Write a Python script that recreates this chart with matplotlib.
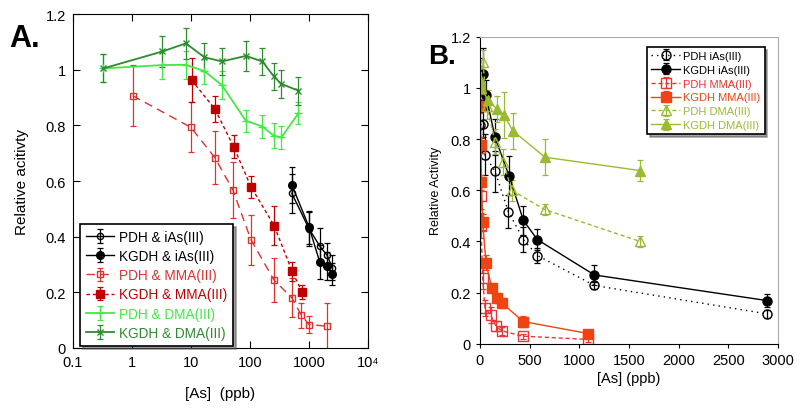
import matplotlib
matplotlib.use("Agg")
import matplotlib.pyplot as plt

plt.rcParams['font.family'] = ['Liberation Sans', 'DejaVu Sans']

# --- Panel A data (log x) ---
a_kdma_x = [0.33, 3.3, 8.2, 17, 33.5, 85, 163, 254, 342, 664]
a_kdma_y = [1.005, 1.066, 1.095, 1.045, 1.030, 1.050, 1.030, 0.976, 0.949, 0.925]
a_kdma_e = [0.05, 0.055, 0.055, 0.05, 0.05, 0.055, 0.05, 0.05, 0.05, 0.05]

a_pdma_x = [0.33, 3.3, 8.2, 17, 33.5, 85, 163, 254, 342, 664]
a_pdma_y = [1.005, 1.017, 1.018, 0.995, 0.945, 0.817, 0.796, 0.763, 0.757, 0.844]
a_pdma_e = [0.05, 0.05, 0.05, 0.045, 0.05, 0.04, 0.04, 0.045, 0.04, 0.04]

a_kmma_x = [10.3, 25.5, 52.8, 105, 257, 519, 766]
a_kmma_y = [0.963, 0.859, 0.724, 0.578, 0.440, 0.275, 0.201]
a_kmma_e = [0.08, 0.045, 0.04, 0.04, 0.07, 0.035, 0.025]

a_pmma_x = [1.03, 10, 25.5, 51.4, 104, 254, 512, 746, 1005, 2051]
a_pmma_y = [0.907, 0.793, 0.684, 0.568, 0.389, 0.245, 0.180, 0.117, 0.084, 0.078]
a_pmma_e = [0.11, 0.09, 0.095, 0.1, 0.09, 0.08, 0.07, 0.045, 0.03, 0.085]

a_kias_x = [512, 1005, 1523, 2028, 2494]
a_kias_y = [0.587, 0.434, 0.309, 0.294, 0.267]
a_kias_e = [0.065, 0.06, 0.06, 0.05, 0.04]

a_pias_x = [512, 1005, 1523, 2028, 2494]
a_pias_y = [0.556, 0.428, 0.366, 0.333, 0.288]
a_pias_e = [0.07, 0.06, 0.065, 0.045, 0.045]

# --- Panel B data (linear x) ---
b_pias_x = [5, 30, 50, 151, 285, 437, 578, 1152, 2889]
b_pias_y = [0.855, 0.86, 0.738, 0.674, 0.517, 0.407, 0.345, 0.228, 0.117]
b_pias_e = [0.05, 0.05, 0.08, 0.08, 0.065, 0.05, 0.03, 0.015, 0.015]

b_kias_x = [0, 34, 60, 151, 292, 437, 578, 1152, 2889]
b_kias_y = [1.037, 1.054, 0.972, 0.807, 0.657, 0.482, 0.407, 0.269, 0.169]
b_kias_e = [0.08, 0.1, 0.06, 0.07, 0.075, 0.055, 0.04, 0.04, 0.025]

b_pmma_x = [1, 3, 6, 10, 27, 50, 107, 161, 218, 430, 1092]
b_pmma_y = [0.996, 0.764, 0.577, 0.462, 0.256, 0.14, 0.113, 0.069, 0.051, 0.030, 0.017]
b_pmma_e = [0.04, 0.04, 0.05, 0.05, 0.04, 0.03, 0.03, 0.02, 0.015, 0.01, 0.01]

b_kmma_x = [1, 3, 8, 15, 27, 60, 118, 174, 218, 436, 1092]
b_kmma_y = [1.0, 0.93, 0.777, 0.631, 0.476, 0.317, 0.218, 0.179, 0.160, 0.087, 0.040]
b_kmma_e = [0.03, 0.03, 0.03, 0.03, 0.03, 0.03, 0.02, 0.02, 0.02, 0.02, 0.01]

b_pdma_x = [0, 30, 67, 151, 235, 319, 650, 1612]
b_pdma_y = [1.02, 1.10, 0.93, 0.79, 0.71, 0.60, 0.525, 0.40]
b_pdma_e = [0.04, 0.05, 0.05, 0.05, 0.05, 0.04, 0.02, 0.02]

b_kdma_x = [0, 10, 84, 168, 242, 329, 655, 1612]
b_kdma_y = [1.036, 1.0, 0.951, 0.918, 0.894, 0.833, 0.729, 0.677]
b_kdma_e = [0.05, 0.04, 0.04, 0.05, 0.09, 0.07, 0.07, 0.04]

fig = plt.figure(figsize=(8, 4.1), dpi=100)

# ================= Panel A =================
axA = fig.add_axes([0.091, 0.149, 0.369, 0.814])
dkgreen = '#2e8b2e'
ltgreen = '#44e844'
red = '#e03030'
dkred = '#c00000'

def eb(ax, x, y, e, label, color, marker, ls, mfc, ms, lw=1.0):
    ax.errorbar(x, y, yerr=e, color=color, marker=marker, ls=ls, mfc=mfc, mec=color,
                ms=ms, lw=lw, elinewidth=0.9, capsize=2.5, capthick=0.9, label=label)

eb(axA, a_pias_x, a_pias_y, a_pias_e, 'PDH & iAs(III)', 'black', 'o', '-', 'none', 4.5)
eb(axA, a_kias_x, a_kias_y, a_kias_e, 'KGDH & iAs(III)', 'black', 'o', '-', 'black', 5.5)
eb(axA, a_pmma_x, a_pmma_y, a_pmma_e, 'PDH & MMA(III)', red, 's', (0, (6, 4)), 'none', 5)
eb(axA, a_kmma_x, a_kmma_y, a_kmma_e, 'KGDH & MMA(III)', dkred, 's', (0, (2.5, 2)), dkred, 6)
eb(axA, a_pdma_x, a_pdma_y, a_pdma_e, 'PDH & DMA(III)', ltgreen, '+', '-', ltgreen, 6, 1.3)
eb(axA, a_kdma_x, a_kdma_y, a_kdma_e, 'KGDH & DMA(III)', dkgreen, 'x', '-', dkgreen, 5, 1.3)

axA.set_xscale('log')
axA.set_xlim(0.1, 1e4)
axA.set_ylim(0, 1.2)
axA.set_xticks([0.1, 1, 10, 100, 1000, 1e4])
axA.set_xticklabels(['0.1', '1', '10', '100', '1000', '10\u2074'])
axA.minorticks_off()
axA.set_yticks([0, 0.2, 0.4, 0.6, 0.8, 1.0, 1.2])
axA.set_yticklabels(['0', '0.2', '0.4', '0.6', '0.8', '1', '1.2'])
axA.tick_params(direction='in', top=True, right=True, labelsize=10.5, length=5, pad=5)
axA.set_xlabel('[As]  (ppb)', fontsize=11, labelpad=12)
axA.set_ylabel('Relative acitivty', fontsize=11, labelpad=12)
for s in axA.spines.values():
    s.set_linewidth(0.8)

legA = axA.legend(loc='lower left', bbox_to_anchor=(0.018, 0.0), fontsize=9.8, frameon=True,
                  fancybox=False, shadow=True, handlelength=2.0, borderpad=0.45,
                  labelspacing=0.38, handletextpad=0.4, borderaxespad=0.15)
legA.get_frame().set_edgecolor('black')
legA.get_frame().set_linewidth(1.2)
for txt, c in zip(legA.get_texts(), ['black', 'black', red, dkred, ltgreen, dkgreen]):
    txt.set_color(c)

fig.text(0.012, 0.885, 'A.', fontsize=22, fontweight='bold')

# ================= Panel B =================
axB = fig.add_axes([0.6, 0.159, 0.3725, 0.749])
orange = '#ee4411'
bred = '#ee3333'
yg = '#99bb33'

eb(axB, b_pias_x, b_pias_y, b_pias_e, 'PDH iAs(III)', 'black', 'o', (0, (1, 3)), 'none', 6.5)
eb(axB, b_kias_x, b_kias_y, b_kias_e, 'KGDH iAs(III)', 'black', 'o', '-', 'black', 6.5)
eb(axB, b_pmma_x, b_pmma_y, b_pmma_e, 'PDH MMA(III)', bred, 's', (0, (3, 2)), 'none', 6.5)
eb(axB, b_kmma_x, b_kmma_y, b_kmma_e, 'KGDH MMA(III)', orange, 's', '-', orange, 7.5)
eb(axB, b_pdma_x, b_pdma_y, b_pdma_e, 'PDH DMA(III)', yg, '^', (0, (3, 2)), 'none', 6.5)
eb(axB, b_kdma_x, b_kdma_y, b_kdma_e, 'KGDH DMA(III)', yg, '^', '-', yg, 6.5)

axB.set_xlim(0, 3000)
axB.set_ylim(0, 1.2)
axB.set_xticks([0, 500, 1000, 1500, 2000, 2500, 3000])
axB.set_yticks([0, 0.2, 0.4, 0.6, 0.8, 1.0, 1.2])
axB.set_yticklabels(['0', '0.2', '0.4', '0.6', '0.8', '1', '1.2'])
axB.tick_params(direction='out', labelsize=10.5, length=3)
axB.set_xlabel('[As] (ppb)', fontsize=10.5, labelpad=3)
axB.set_ylabel('Relative Activity', fontsize=9, labelpad=6)
axB.spines['top'].set_color('#aaaaaa')
axB.spines['right'].set_color('#aaaaaa')

legB = axB.legend(loc='upper right', bbox_to_anchor=(0.955, 0.967), fontsize=8, frameon=True,
                  fancybox=False, shadow=True, handlelength=2.6, borderpad=0.35,
                  labelspacing=0.35, handletextpad=0.3, borderaxespad=0.0)
legB.get_frame().set_edgecolor('black')
legB.get_frame().set_linewidth(1.2)
for txt, c in zip(legB.get_texts(), ['black', 'black', bred, orange, yg, yg]):
    txt.set_color(c)

fig.text(0.535, 0.845, 'B.', fontsize=20, fontweight='bold')

fig.savefig('out.png', dpi=100)
